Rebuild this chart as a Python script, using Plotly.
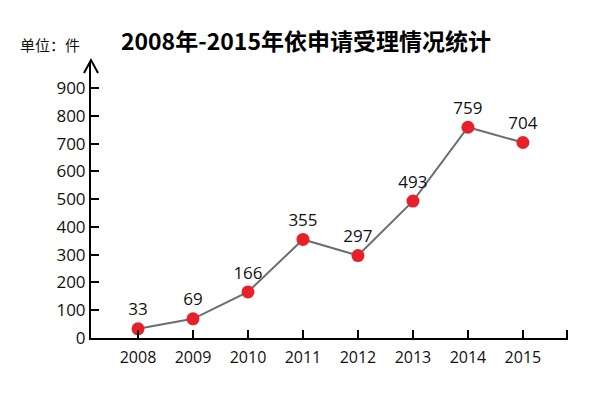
import plotly.graph_objects as go

years = ["2008", "2009", "2010", "2011", "2012", "2013", "2014", "2015"]
values = [33, 69, 166, 355, 297, 493, 759, 704]
y_ticks = [0, 100, 200, 300, 400, 500, 600, 700, 800, 900]

xs = list(range(len(years)))
font_fam = "Open Sans, Noto Sans CJK SC, sans-serif"

fig = go.Figure()
fig.add_trace(go.Scatter(
    x=xs, y=values, mode="lines+markers+text",
    line=dict(color="#6e6e6e", width=2),
    marker=dict(color="#e8202a", size=13),
    text=[str(v) for v in values], textposition="top center",
    textfont=dict(size=17, color="#111111", family=font_fam),
    cliponaxis=False, showlegend=False,
))

fig.update_layout(
    width=590, height=381,
    margin=dict(l=83, r=30, t=54, b=51),
    paper_bgcolor="white", plot_bgcolor="white",
    font=dict(family=font_fam, color="#111111"),
    title=dict(text="<b>2008年-2015年依申请受理情况统计</b>", x=0.505, xanchor="center",
               y=0.911, yanchor="middle",
               font=dict(size=23, family="Noto Sans CJK SC, sans-serif", color="#000000")),
    xaxis=dict(
        range=[-0.855, 7.82], tickmode="array", tickvals=xs, ticktext=years,
        showline=True, linecolor="#000000", linewidth=2,
        ticks="inside", ticklen=8, tickwidth=2, tickcolor="#000000",
        showgrid=False, zeroline=False, tickfont=dict(size=16), ticklabelstandoff=4,
    ),
    yaxis=dict(
        range=[0, 994], tickmode="array", tickvals=y_ticks,
        showline=True, linecolor="#000000", linewidth=2,
        ticks="inside", ticklen=8, tickwidth=2, tickcolor="#000000",
        showgrid=False, zeroline=False, tickfont=dict(size=17),
    ),
    annotations=[dict(
        text="单位：件", xref="paper", yref="paper", x=-0.153, y=1.062,
        xanchor="left", yanchor="middle", showarrow=False,
        font=dict(size=15, family="Noto Sans CJK SC, sans-serif", color="#111111"),
    )],
    shapes=[
        dict(type="path", xref="paper", yref="paper", xsizemode="pixel", ysizemode="pixel",
             xanchor=0, yanchor=1, path="M -7,-11 L 0,2 L 7,-11",
             line=dict(color="#000000", width=2)),
        dict(type="line", xref="paper", yref="paper", xsizemode="pixel", ysizemode="pixel",
             xanchor=1, yanchor=0, x0=-1, x1=-1, y0=0, y1=8,
             line=dict(color="#000000", width=2)),
    ],
)

fig.write_html("out.html")
